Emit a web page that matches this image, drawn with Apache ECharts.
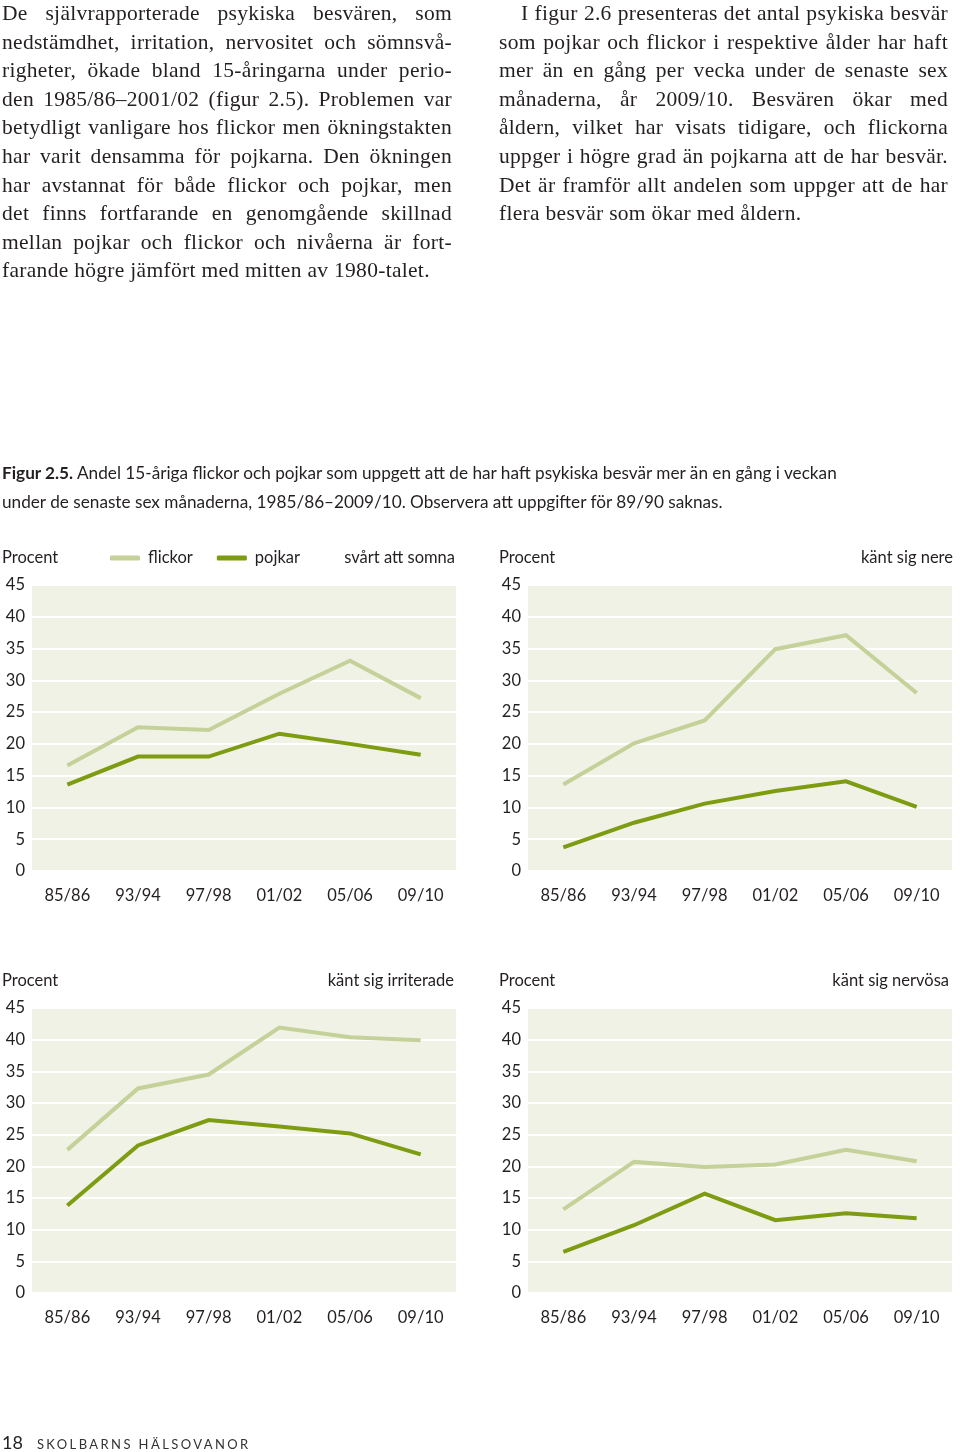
<!DOCTYPE html>
<html>
<head>
<meta charset="utf-8">
<script src="https://cdn.jsdelivr.net/npm/echarts@6/dist/echarts.min.js"></script>
<style>
  html, body { margin: 0; padding: 0; background: #ffffff; }
  body { width: 960px; height: 1452px; position: relative; overflow: hidden; }
  #chart { position: absolute; left: 0; top: 0; width: 960px; height: 1452px; }
  .col { position: absolute; font-family: "Liberation Serif", serif; font-size: 21.5px; letter-spacing: 0.3px; line-height: 28.6px; color: #231f20; z-index: 2; }
  .col div { text-align: justify; text-align-last: justify; white-space: nowrap; }
  .col div.last { text-align-last: left; }
  #colL { left: 2px; top: -1px; width: 450px; }
  #colR { left: 499px; top: -1px; width: 449px; }
  #caption { position: absolute; left: 2px; top: 459px; font-family: "Lato", sans-serif; font-size: 17.2px; line-height: 28.5px; color: #231f20; z-index: 2; white-space: nowrap; }
  #caption b { font-weight: bold; }
  #footer { position: absolute; left: 2px; top: 1431px; font-family: "Lato", sans-serif; color: #231f20; z-index: 2; white-space: nowrap; }
  #footer .num { font-size: 18px; }
  #footer .run { font-size: 13px; letter-spacing: 2.4px; margin-left: 14px; color: #333; }
</style>
</head>
<body>
<div id="colL" class="col">
  <div>De självrapporterade psykiska besvären, som</div>
  <div>nedstämdhet, irritation, nervositet och sömnsvå-</div>
  <div>righeter, ökade bland 15-åringarna under perio-</div>
  <div>den 1985/86–2001/02 (figur 2.5). Problemen var</div>
  <div>betydligt vanligare hos flickor men ökningstakten</div>
  <div>har varit densamma för pojkarna. Den ökningen</div>
  <div>har avstannat för både flickor och pojkar, men</div>
  <div>det finns fortfarande en genomgående skillnad</div>
  <div>mellan pojkar och flickor och nivåerna är fort-</div>
  <div class="last">farande högre jämfört med mitten av 1980-talet.</div>
</div>
<div id="colR" class="col">
  <div style="padding-left:22px">I figur 2.6 presenteras det antal psykiska besvär</div>
  <div>som pojkar och flickor i respektive ålder har haft</div>
  <div>mer än en gång per vecka under de senaste sex</div>
  <div>månaderna, år 2009/10. Besvären ökar med</div>
  <div>åldern, vilket har visats tidigare, och flickorna</div>
  <div>uppger i högre grad än pojkarna att de har besvär.</div>
  <div>Det är framför allt andelen som uppger att de har</div>
  <div class="last">flera besvär som ökar med åldern.</div>
</div>
<div id="caption"><b>Figur 2.5.</b> Andel 15-åriga flickor och pojkar som uppgett att de har haft psykiska besvär mer än en gång i veckan<br>under de senaste sex månaderna, 1985/86–2009/10. Observera att uppgifter för 89/90 saknas.</div>
<div id="footer"><span class="num">18</span><span class="run">SKOLBARNS HÄLSOVANOR</span></div>
<div id="chart"></div>
<script>
const categories = ['85/86', '93/94', '97/98', '01/02', '05/06', '09/10'];
const panelTitles = ['svårt att somna', 'känt sig nere', 'känt sig irriterade', 'känt sig nervösa'];
const seriesNames = ['flickor', 'pojkar'];
const somnaFlickor = [16.6, 22.6, 22.2, 27.9, 33.1, 27.2];
const somnaPojkar = [13.6, 18.0, 18.0, 21.6, 20.0, 18.3];
const nereFlickor = [13.6, 20.1, 23.7, 34.9, 37.1, 28.0];
const nerePojkar = [3.7, 7.6, 10.6, 12.6, 14.1, 10.1];
const irriteradeFlickor = [22.6, 32.3, 34.5, 41.9, 40.4, 39.9];
const irriteradePojkar = [13.8, 23.3, 27.3, 26.3, 25.2, 21.9];
const nervosaFlickor = [13.2, 20.7, 19.9, 20.3, 22.6, 20.8];
const nervosaPojkar = [6.5, 10.7, 15.7, 11.5, 12.6, 11.8];
const yMin = 0, yMax = 45, yStep = 5;

const panelData = [
  [somnaFlickor, somnaPojkar],
  [nereFlickor, nerePojkar],
  [irriteradeFlickor, irriteradePojkar],
  [nervosaFlickor, nervosaPojkar]
];

const FONT = 'Lato, "Open Sans", sans-serif';
const TXT = '#231f20';
const colors = ['#c4d198', '#7d9c12'];

const grids = [
  { left: 32, top: 585, width: 424, height: 286 },
  { left: 528, top: 585, width: 424, height: 286 },
  { left: 32, top: 1008, width: 424, height: 285 },
  { left: 528, top: 1008, width: 424, height: 285 }
].map(g => Object.assign(g, { show: true, backgroundColor: '#f1f2e6', borderWidth: 0, containLabel: false }));

const labelTop = [549, 549, 972, 972];
const titles = [];
const titleRight = [505, 7, 506, 11];
const procentLeft = [2, 499, 2, 499];
for (let i = 0; i < 4; i++) {
  titles.push({ text: 'Procent', left: procentLeft[i], top: labelTop[i], padding: 0,
    textStyle: { fontFamily: FONT, fontSize: 16.5, fontWeight: 'normal', color: TXT, lineHeight: 18 } });
  titles.push({ text: panelTitles[i], right: titleRight[i], top: labelTop[i], padding: 0,
    textStyle: { fontFamily: FONT, fontSize: 16.5, fontWeight: 'normal', color: TXT, lineHeight: 18 } });
}

const xAxes = [], yAxes = [], series = [];
for (let i = 0; i < 4; i++) {
  xAxes.push({
    gridIndex: i, type: 'category', data: categories, boundaryGap: true,
    axisLine: { show: false }, axisTick: { show: false }, splitLine: { show: false },
    axisLabel: { fontFamily: FONT, fontSize: 16.5, color: TXT, margin: 16 }
  });
  yAxes.push({
    gridIndex: i, type: 'value', min: yMin, max: yMax, interval: yStep,
    axisLine: { show: false }, axisTick: { show: false },
    splitLine: { show: true, lineStyle: { color: '#ffffff', width: 2 } },
    axisLabel: { fontFamily: FONT, fontSize: 16.5, color: TXT, margin: 7 }
  });
  for (let s = 0; s < 2; s++) {
    series.push({
      name: seriesNames[s], type: 'line', xAxisIndex: i, yAxisIndex: i,
      data: panelData[i][s], symbol: 'none', silent: true, animation: false,
      lineStyle: { color: colors[s], width: 4, cap: 'butt', join: 'miter' },
      itemStyle: { color: colors[s] }, z: 3 + s
    });
  }
}

const chart = echarts.init(document.getElementById('chart'), null, { renderer: 'canvas' });
chart.setOption({
  animation: false,
  title: titles,
  legend: {
    data: seriesNames, left: 110, top: 549, padding: 0,
    icon: 'roundRect', itemWidth: 30, itemHeight: 5, itemGap: 24,
    selectedMode: false,
    textStyle: { fontFamily: FONT, fontSize: 16.5, color: TXT, padding: [0, 0, 0, 3], lineHeight: 18 }
  },
  grid: grids,
  xAxis: xAxes,
  yAxis: yAxes,
  series: series
});
</script>
</body>
</html>
